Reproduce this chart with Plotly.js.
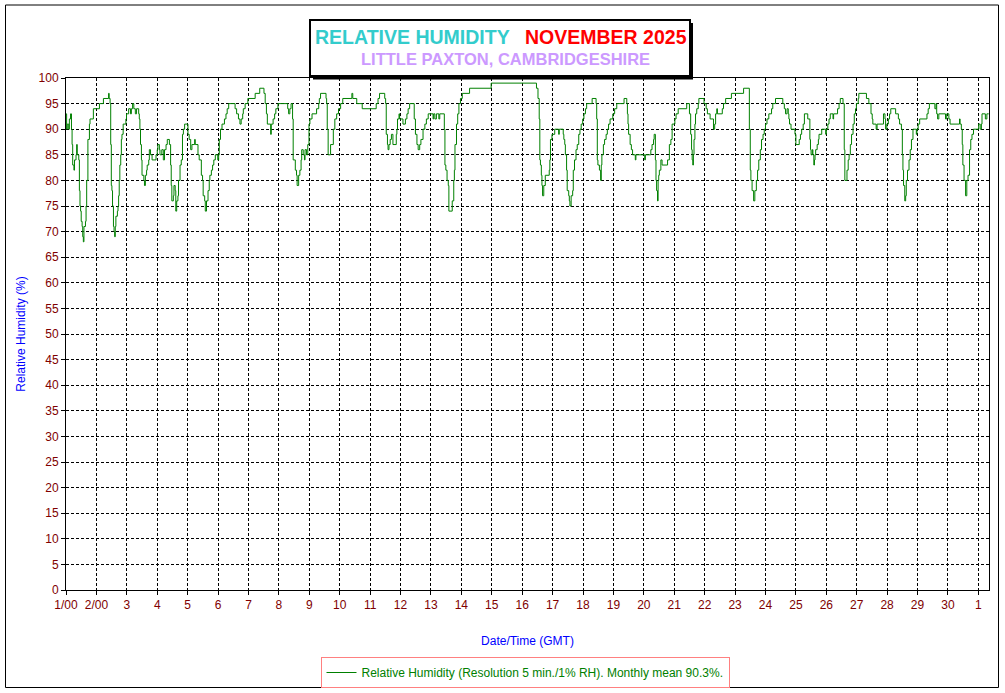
<!DOCTYPE html>
<html>
<head>
<meta charset="utf-8">
<script src="https://cdn.plot.ly/plotly-3.0.1.min.js"></script>
<style>html,body{margin:0;padding:0;background:#fff;}#chart{width:1005px;height:693px;}</style>
</head>
<body>
<div id="chart"></div>
<script>
// Time in days since 1 Nov 2025 00:00 GMT
const dayOffset = [
0.00,0.02,0.04,0.09,0.11,0.15,0.18,0.20,0.22,0.26,0.28,0.33,0.35,0.37,0.42,0.44,0.46,0.48,0.50,0.53,0.55,0.57,0.59,0.64,0.66,0.68,0.72,0.77,0.79,0.90,
1.10,1.23,1.40,1.42,1.45,1.47,1.49,1.51,1.53,1.56,1.58,1.60,1.62,1.64,1.69,1.71,1.73,1.75,1.77,1.80,1.82,1.84,1.88,1.97,1.99,
2.06,2.12,2.15,2.19,2.23,2.28,2.32,2.39,2.41,2.43,2.45,2.48,2.50,2.56,2.58,2.61,2.65,2.67,2.72,2.74,2.78,2.83,2.96,
3.00,3.02,3.07,3.09,3.15,3.20,3.24,3.29,3.33,3.40,3.44,3.46,3.48,3.53,3.55,3.59,3.61,3.64,3.68,3.70,3.75,3.79,3.83,3.86,3.90,
4.01,4.05,4.10,4.14,4.23,4.25,4.34,4.38,4.45,4.49,4.51,4.56,4.58,4.62,4.67,4.71,4.73,4.78,4.82,4.86,4.91,4.99,
5.02,5.04,5.08,5.13,5.21,5.26,5.30,5.35,5.56,5.61,5.67,5.72,5.76,5.81,5.83,5.89,5.98,
6.22,6.37,6.51,6.55,6.59,6.62,6.73,6.75,6.81,6.86,6.90,6.97,
7.29,7.32,7.36,7.40,7.45,7.47,7.54,7.58,7.60,7.65,7.69,7.73,7.75,7.80,7.84,7.86,7.91,7.95,7.99,
8.02,8.09,8.24,8.31,8.33,8.37,8.55,8.57,8.59,8.62,8.70,8.79,8.84,8.90,8.96,
9.03,9.10,9.40,9.43,9.56,9.74,
10.20,10.26,10.31,10.48,10.51,10.53,10.57,10.59,10.62,10.66,10.70,10.75,10.86,10.88,10.90,10.95,10.97,
11.08,11.16,11.21,11.25,11.30,11.45,11.49,11.54,11.58,11.63,11.67,11.74,11.80,11.85,11.91,
12.07,12.09,12.13,12.18,12.26,12.29,12.44,12.46,12.49,12.53,12.57,12.59,12.70,12.75,12.77,12.79,12.84,12.88,12.92,12.97,
13.03,13.27,13.98,
15.47,15.52,15.56,15.58,15.60,15.63,15.65,15.67,15.71,15.76,15.89,15.91,15.93,15.98,
16.07,16.20,16.22,16.35,16.37,16.40,16.42,16.46,16.48,16.53,16.55,16.57,16.61,16.66,16.68,16.72,16.77,16.81,16.86,16.90,16.94,16.99,
17.03,17.08,17.12,17.30,17.43,17.45,17.47,17.49,17.54,17.58,17.60,17.62,17.67,17.71,17.76,17.80,17.84,17.89,17.98,
18.04,18.11,18.35,18.44,18.46,18.48,18.50,18.55,18.59,18.63,18.72,18.74,
19.03,19.05,19.23,19.27,19.32,19.34,19.38,19.40,19.42,19.45,19.47,19.49,19.51,19.56,19.60,19.78,19.84,19.89,19.93,
20.02,20.06,20.13,20.41,20.50,20.54,20.57,20.59,20.61,20.63,20.65,20.68,20.70,20.74,20.79,20.81,20.98,
21.05,21.09,21.18,21.29,21.33,21.36,21.40,21.42,21.58,21.62,21.69,21.88,
22.28,22.47,22.50,22.52,22.56,22.61,22.65,22.70,22.74,22.78,22.83,22.87,22.92,22.96,
23.00,23.05,23.11,23.20,23.24,23.33,23.57,23.62,23.66,23.71,23.75,23.77,23.79,23.84,23.97,
24.00,24.11,24.15,24.19,24.24,24.28,24.39,24.46,24.48,24.50,24.54,24.56,24.59,24.61,24.63,24.65,24.70,24.74,24.76,24.85,24.98,
25.00,25.05,25.09,25.13,25.22,25.24,25.37,25.42,25.46,25.55,25.59,25.61,25.68,25.72,25.75,25.79,25.83,25.88,25.92,25.96,25.99,
26.05,26.07,26.32,26.40,26.47,26.51,26.53,26.64,26.67,26.88,26.93,26.95,26.99,
27.04,27.08,27.12,27.28,27.37,27.41,27.47,27.50,27.52,27.54,27.58,27.61,27.63,27.67,27.72,27.76,27.80,27.85,27.96,27.98,
28.02,28.07,28.31,28.35,28.39,28.57,28.61,28.63,28.66,28.70,28.92,28.96,
29.03,29.07,29.38,29.40,29.44,29.47,29.49,29.53,29.58,29.62,29.66,29.71,29.75,29.79,29.84,
30.01,30.06,30.10,30.12,30.23,30.28,30.34
];
// Relative humidity (%)
const rhPercent = [
93,90,91,90,92,93,90,87,83,82,84,85,87,85,84,78,75,74,72,71,69,68,71,72,75,80,88,91,92,94,
95,96,97,96,95,87,79,78,75,71,70,69,71,73,74,75,77,80,83,85,88,89,91,92,93,
94,93,94,95,94,93,94,93,92,90,87,84,81,80,79,81,82,83,84,86,85,84,85,
86,87,86,85,86,84,86,87,88,87,83,79,76,77,79,78,74,76,77,80,83,84,89,90,91,
89,88,86,87,88,87,85,84,81,80,77,76,74,76,78,80,81,82,83,84,85,84,
85,88,90,91,92,93,94,95,94,93,92,91,92,93,94,95,96,
97,98,97,95,93,91,89,91,92,93,94,95,
94,93,94,95,92,84,82,81,79,81,82,84,86,85,84,86,85,87,91,
92,93,94,95,96,97,96,95,90,85,87,90,92,93,94,
95,96,97,96,95,94,
95,96,97,96,95,89,87,86,87,88,89,87,89,90,92,93,92,
91,92,93,94,95,92,89,87,86,87,88,90,91,92,93,
92,93,92,93,92,93,90,83,82,80,79,74,76,80,82,87,91,93,95,96,
97,98,99,
98,96,92,84,83,81,79,77,79,81,82,84,88,89,
90,89,90,89,88,87,85,82,78,77,76,75,77,78,82,84,86,87,89,90,91,92,
93,94,95,96,95,92,84,83,82,80,83,85,87,88,89,90,91,92,93,
94,95,96,95,93,91,89,87,86,85,84,85,
84,85,86,87,88,89,84,80,78,76,80,81,82,84,83,84,87,88,91,
92,93,94,95,93,89,86,84,83,85,88,91,93,94,95,96,95,
94,93,92,90,91,93,94,93,94,95,96,97,
98,90,82,80,78,76,78,80,82,84,86,88,89,90,
91,92,93,94,95,96,95,94,93,94,93,92,91,90,89,
87,88,89,90,91,93,92,88,86,85,86,85,83,84,85,86,87,88,89,90,89,
90,91,92,93,92,93,94,95,96,95,86,80,82,84,85,87,89,91,93,94,95,
96,97,96,95,93,92,91,90,91,93,92,90,91,
92,93,94,93,92,91,90,85,82,79,76,77,80,82,84,86,88,90,89,90,
91,92,93,94,95,94,95,93,92,93,92,93,
92,91,92,91,90,87,83,80,77,80,81,86,88,89,90,
91,90,91,93,92,93,93
];
const tickDays = [0,1,2,3,4,5,6,7,8,9,10,11,12,13,14,15,16,17,18,19,20,21,22,23,24,25,26,27,28,29,30];
const tickLabels = ["1/00","2/00","3","4","5","6","7","8","9","10","11","12","13","14","15","16","17","18","19","20","21","22","23","24","25","26","27","28","29","30","1"];
const yTicks = [0,5,10,15,20,25,30,35,40,45,50,55,60,65,70,75,80,85,90,95,100];

// layout helpers: pixel -> paper
const L = 66, T = 78, W = 923, H = 512;
const px = x => (x - L) / W;
const py = y => (T + H - y) / H;

const FONT = "Liberation Sans, Arial, sans-serif";
const MAROON = "#800000";

const trace = {
  x: dayOffset, y: rhPercent, type: "scatter", mode: "lines",
  line: {color: "#008000", width: 1, shape: "hv"},
  name: "Relative Humidity (Resolution 5 min./1% RH). Monthly mean 90.3%.",
  showlegend: true, hoverinfo: "x+y"
};

const layout = {
  width: 1005, height: 693,
  margin: {l: L, r: 1005 - L - W, t: T, b: 693 - T - H, pad: 0, autoexpand: false},
  paper_bgcolor: "#ffffff", plot_bgcolor: "#ffffff",
  font: {family: FONT, size: 12, color: MAROON},
  xaxis: {
    range: [0, 30.35], tickmode: "array", tickvals: tickDays, ticktext: tickLabels,
    showgrid: true, gridcolor: "#000000", gridwidth: 1, griddash: "3px,2px",
    showline: true, mirror: true, linecolor: "#000000", linewidth: 1,
    ticks: "outside", ticklen: 4, tickcolor: "#000000",
    tickfont: {family: FONT, size: 12, color: MAROON},
    zeroline: false, automargin: false,
    title: {text: "Date/Time (GMT)", font: {family: FONT, size: 12, color: "#0000ff"}, standoff: 25}
  },
  yaxis: {
    range: [0, 100], tickmode: "array", tickvals: yTicks,
    showgrid: true, gridcolor: "#000000", gridwidth: 1, griddash: "3px,2px",
    showline: true, mirror: true, linecolor: "#000000", linewidth: 1,
    ticks: "outside", ticklen: 4, tickcolor: "#000000",
    tickfont: {family: FONT, size: 12, color: MAROON},
    zeroline: false, automargin: false,
    title: {text: "Relative Humidity (%)", font: {family: FONT, size: 12, color: "#0000ff"}, standoff: 10}
  },
  legend: {
    orientation: "h", x: px(525), xanchor: "center", y: py(657), yanchor: "top",
    bgcolor: "rgba(255,255,255,0)", bordercolor: "#ff8080", borderwidth: 1,
    font: {family: FONT, size: 12, color: "#008000"}
  },
  shapes: [
    {type: "rect", xref: "paper", yref: "paper", x0: px(5.5), x1: px(998.5), y0: py(5), y1: py(687.5),
     line: {color: "#000000", width: 1}, fillcolor: "rgba(0,0,0,0)"},
    {type: "rect", xref: "paper", yref: "paper", x0: px(313), x1: px(693), y0: py(23), y1: py(79.5),
     line: {width: 0}, fillcolor: "#000000"},
    {type: "rect", xref: "paper", yref: "paper", x0: px(310), x1: px(690), y0: py(20), y1: py(76),
     line: {color: "#000000", width: 2}, fillcolor: "#ffffff"}
  ],
  annotations: [
    {text: "<b>RELATIVE HUMIDITY</b>", xref: "paper", yref: "paper", x: px(313), xanchor: "left", y: py(37), yanchor: "middle",
     showarrow: false, font: {family: FONT, size: 19.5, color: "#33cccc"}},
    {text: "<b>NOVEMBER 2025</b>", xref: "paper", yref: "paper", x: px(689), xanchor: "right", y: py(37), yanchor: "middle",
     showarrow: false, font: {family: FONT, size: 19.5, color: "#ff0000"}},
    {text: "<b>LITTLE PAXTON, CAMBRIDGESHIRE</b>", xref: "paper", yref: "paper", x: px(505), xanchor: "center", y: py(59), yanchor: "middle",
     showarrow: false, font: {family: FONT, size: 16.5, color: "#cc99ff"}}
  ]
};

Plotly.newPlot("chart", [trace], layout, {displayModeBar: false, staticPlot: true});
</script>
</body>
</html>
